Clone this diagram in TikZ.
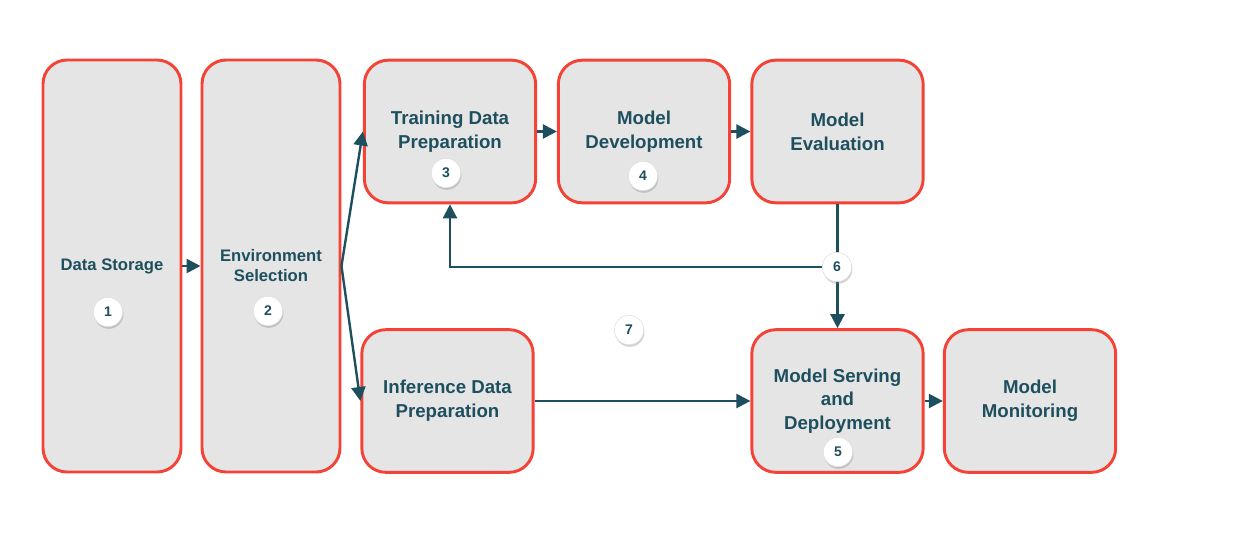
\documentclass[tikz,border=0pt]{standalone}
\usepackage{fontspec}
\setmainfont{Liberation Sans}
\usepackage{xcolor}
\usetikzlibrary{arrows.meta,shadows}
\definecolor{boxred}{RGB}{244,67,54}
\definecolor{boxgray}{RGB}{229,229,229}
\definecolor{inkteal}{RGB}{30,79,94}
\begin{document}
\begin{tikzpicture}[x=0.75pt,y=0.75pt,yscale=-1,xscale=1,
	stage/.style={draw=boxred,line width=2.2pt,fill=boxgray,rounded corners=18pt,align=center,text=inkteal,inner sep=0pt,font=\bfseries\fontsize{14}{17.8}\selectfont},
	tall/.style={stage,minimum width=103.5pt,minimum height=309pt,font=\bfseries\fontsize{12.5}{15}\selectfont},
	wide/.style={stage,minimum width=128.5pt,minimum height=107pt},
	badge/.style={circle,fill=white,draw=gray!25,line width=0.4pt,minimum size=22pt,inner sep=0pt,text=inkteal,font=\bfseries\fontsize{10.5}{12}\selectfont,drop shadow={opacity=0.35,shadow xshift=0.6pt,shadow yshift=-1.6pt}},
	flow/.style={draw=inkteal,line width=1.8pt,-{Triangle[length=10.5pt,width=10.5pt]}}]
				\useasboundingbox (0,0) rectangle (1239,537);
				% stages
				\node (store) at (112,266) [tall] {Data Storage};
				\node (envsel) at (271,266) [tall] {Environment\\Selection};
				\node (trainprep) at (450,131.5) [wide] {Training Data\\Preparation};
				\node (modeldev) at (644,131.5) [wide] {Model\\Development};
				\node (modeleval) at (837.5,131.5) [wide] {Model\\Evaluation};
				\node (inferprep) at (447.5,401) [wide] {Inference Data\\Preparation};
				\node (serving) at (837.5,401) [wide] {Model Serving\\and\\Deployment};
				\node (monitor) at (1030,401) [wide] {Model\\Monitoring};
				% connectors
				\draw [flow] (store.east) -- (envsel.west);
				\draw [flow] (envsel.east) -- (trainprep.west);
				\draw [flow] (envsel.east) -- (inferprep.west);
				\draw [flow] (trainprep.east) -- (modeldev.west);
				\draw [flow] (modeldev.east) -- (modeleval.west);
				\draw [flow] (modeleval.south) -- (serving.north);
				\draw [flow] (inferprep.east) -- (serving.west);
				\draw [flow] (serving.east) -- (monitor.west);
				% badges
				\node (n1) at (108,312) [badge] {1};
				\node (n2) at (268,311) [badge] {2};
				\node (n3) at (446,173) [badge] {3};
				\node (n4) at (643,176) [badge] {4};
				\node (n5) at (838,452) [badge] {5};
				\node (n6) at (837,267) [badge] {6};
				\node (n7) at (629,330) [badge] {7};
				\draw [flow] (n6.west) -| (trainprep.south);
			\end{tikzpicture}
\end{document}
